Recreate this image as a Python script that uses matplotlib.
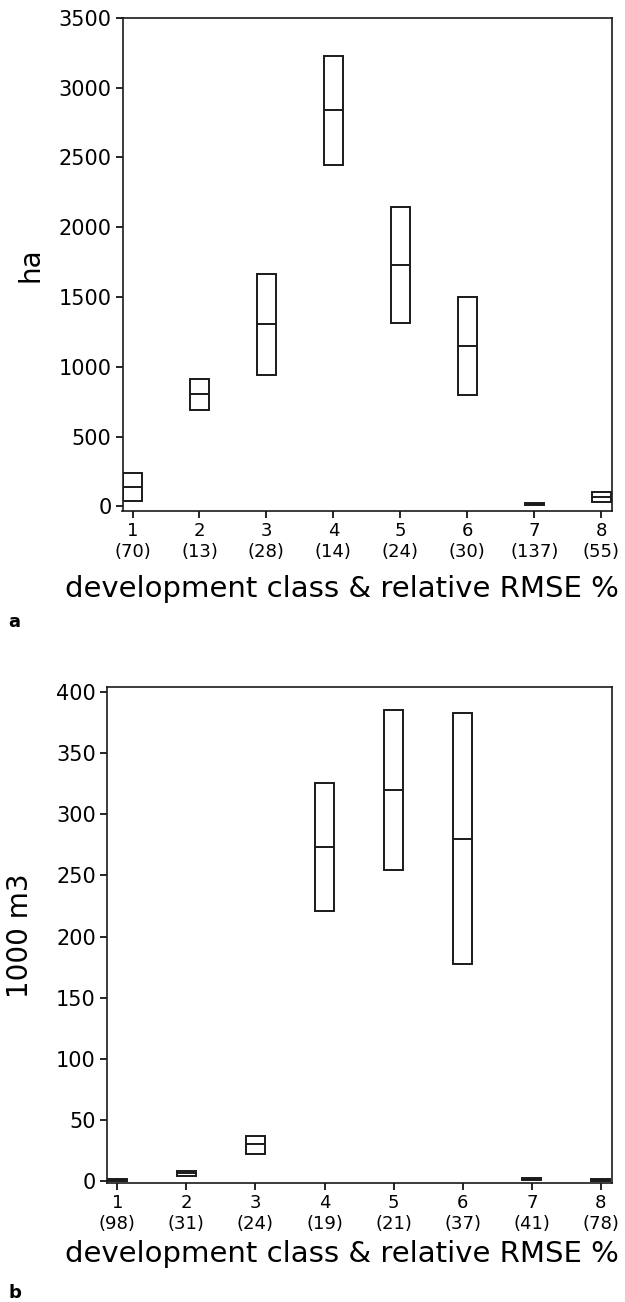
import matplotlib
matplotlib.use("Agg")
import matplotlib.pyplot as plt
import numpy as np

plt.rcParams["font.family"] = ["DejaVu Sans"]

# development classes
classes = [1, 2, 3, 4, 5, 6, 7, 8]

# panel a: area (ha)
area_rmse = [70, 13, 28, 14, 24, 30, 137, 55]
area_low = [39, 694, 944, 2446, 1312, 799, 10, 30]
area_med = [142, 806, 1305, 2840, 1732, 1150, 17, 68]
area_high = [238, 913, 1668, 3230, 2148, 1503, 25, 106]

# panel b: volume (1000 m3)
vol_rmse = [98, 31, 24, 19, 21, 37, 41, 78]
vol_low = [0.4, 4.6, 22.3, 221, 254, 177.3, 1.2, 0.4]
vol_med = [1.0, 6.5, 30.2, 273.4, 319.7, 279.7, 1.7, 1.0]
vol_high = [1.6, 8.4, 37.3, 325.7, 385, 382.8, 2.3, 1.6]

BOX_W = 0.28
XLABEL = "development class & relative RMSE %"


def draw_panel(ax, low, med, high, rmse, ylabel, yticks, ylim):
    x = np.array(classes, dtype=float)
    low = np.array(low)
    high = np.array(high)
    ax.bar(x, high - low, bottom=low, width=BOX_W, fill=False,
           edgecolor="#1a1a1a", linewidth=1.4)
    ax.hlines(med, x - BOX_W / 2, x + BOX_W / 2, color="#1a1a1a", linewidth=1.4)

    ax.set_xlim(0.85, 8.16)
    ax.set_ylim(*ylim)
    ax.set_yticks(yticks)
    ax.set_xticks(x)
    ax.set_xticklabels([f"{c}\n({r})" for c, r in zip(classes, rmse)],
                       fontsize=13, linespacing=1.2)
    ax.tick_params(axis="y", labelsize=15, direction="out", length=5, width=1.2, pad=3)
    ax.tick_params(axis="x", direction="out", length=5, width=1.2, pad=3)
    for s in ax.spines.values():
        s.set_linewidth(1.2)
        s.set_color("#1a1a1a")
    ax.set_xlabel(XLABEL, fontsize=21, va="center")
    ax.set_ylabel(ylabel, fontsize=20, va="center")


fig = plt.figure(figsize=(6.25, 13.02), dpi=100)

ax_a = fig.add_axes((0.196, 0.6078, 0.783, 0.3785))
draw_panel(ax_a, area_low, area_med, area_high, area_rmse, "ha",
           [0, 500, 1000, 1500, 2000, 2500, 3000, 3500], (-30, 3500))
ax_a.yaxis.set_label_coords(-0.189, 0.5)
ax_a.xaxis.set_label_coords(0.448, -0.160)

ax_b = fig.add_axes((0.1712, 0.0912, 0.8078, 0.3809))
draw_panel(ax_b, vol_low, vol_med, vol_high, vol_rmse, "1000 m3",
           [0, 50, 100, 150, 200, 250, 300, 350, 400], (-1.6, 403.6))
ax_b.yaxis.set_label_coords(-0.172, 0.5)
ax_b.xaxis.set_label_coords(0.465, -0.143)

fig.text(0.013, 1 - 622 / 1302, "a", fontsize=13, fontweight="bold", va="center")
fig.text(0.013, 1 - 1293 / 1302, "b", fontsize=13, fontweight="bold", va="center")

fig.savefig("out.png", dpi=100)
